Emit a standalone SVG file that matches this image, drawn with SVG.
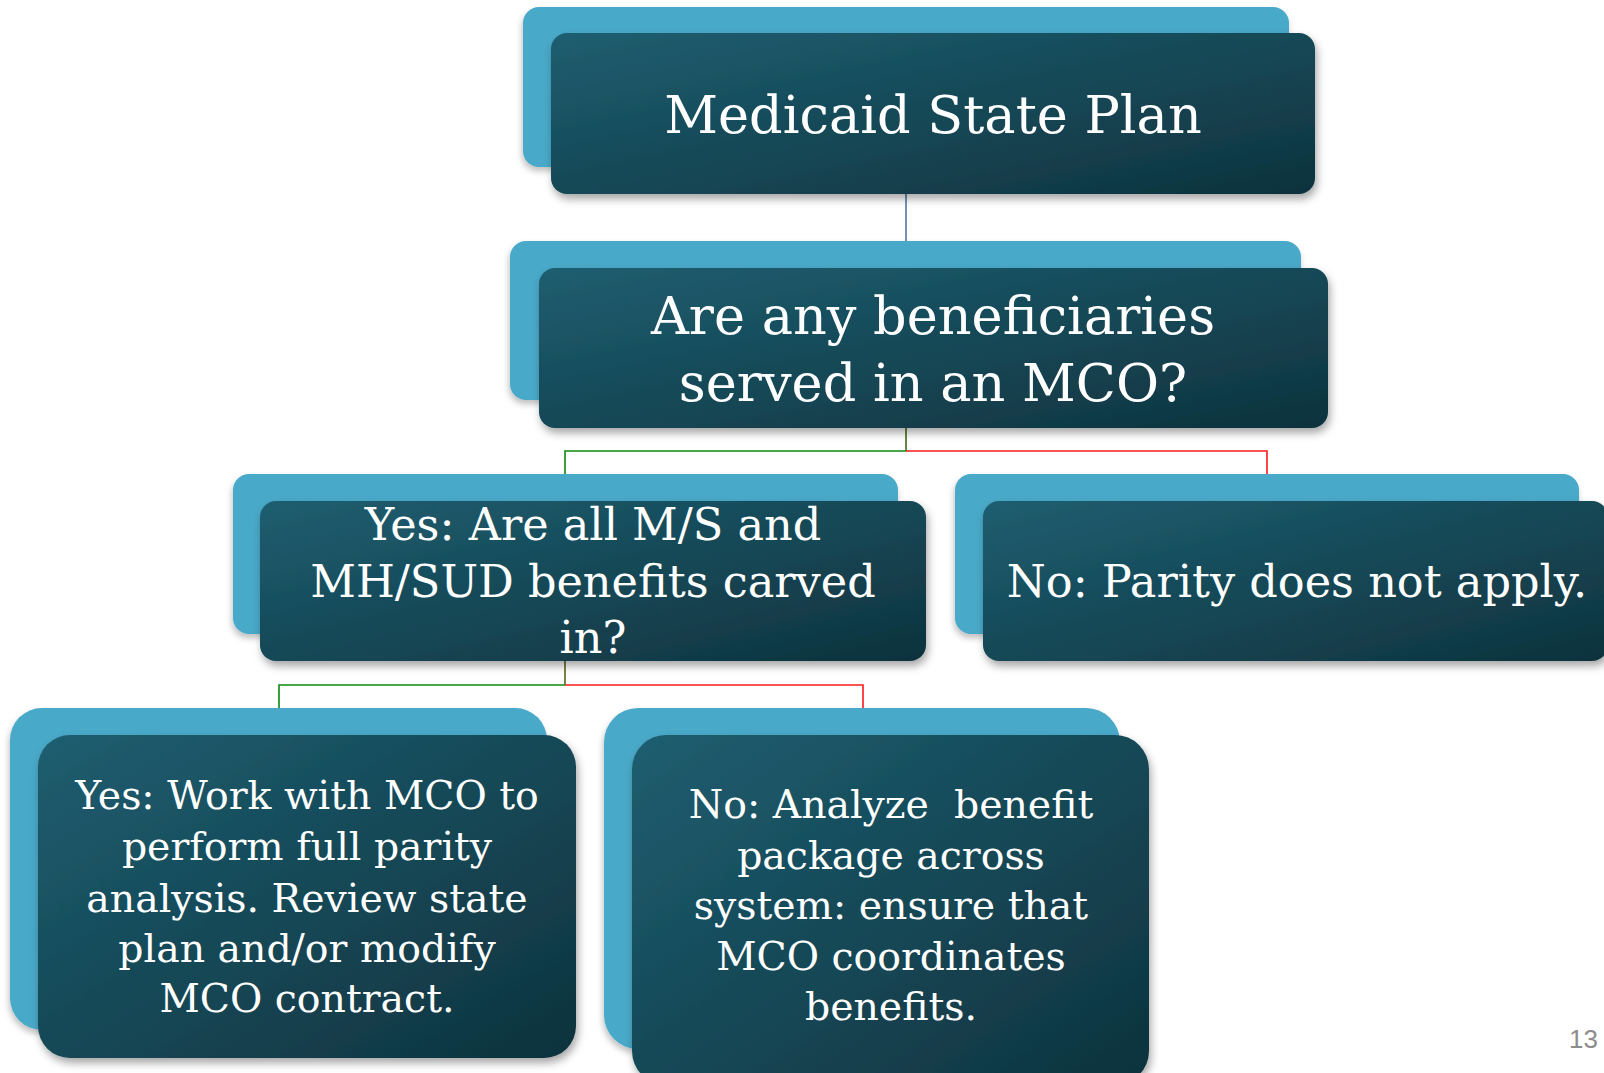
<svg xmlns="http://www.w3.org/2000/svg" width="1604" height="1073" viewBox="0 0 1604 1073">
<defs>
<linearGradient id="dark" x1="0" y1="0" x2="1" y2="1">
<stop offset="0" stop-color="#1e5e70"/>
<stop offset="1" stop-color="#0e323d"/>
</linearGradient>
<filter id="sh" x="-10%" y="-10%" width="120%" height="130%">
<feDropShadow dx="2" dy="5" stdDeviation="4" flood-color="#000" flood-opacity="0.35"/>
</filter>
<filter id="shb" x="-10%" y="-10%" width="120%" height="130%">
<feDropShadow dx="-1" dy="4" stdDeviation="3" flood-color="#000" flood-opacity="0.25"/>
</filter>
</defs>
<style>
.back{fill:#48a9c8;filter:url(#shb)}
.front{fill:url(#dark);filter:url(#sh)}
.t{fill:#ffffff;font-family:"DejaVu Serif","Liberation Serif",serif;text-anchor:middle}
.big{font-size:52.5px}
.mid{font-size:44.6px}
.sm{font-size:39.4px}
.c{fill:none;stroke-width:1.6}
</style>
<rect width="1604" height="1073" fill="#ffffff"/>
<g id="connectors">
<line class="c" x1="906" y1="194" x2="906" y2="241" stroke="#4f74a8"/>
<line class="c" x1="906" y1="428" x2="906" y2="451" stroke="#3d6b10"/>
<polyline class="c" points="565,474 565,451 906,451" stroke="#0a8a0a" stroke-width="2"/>
<polyline class="c" points="906,451 1267,451 1267,474" stroke="#ff1a1a" stroke-width="2"/>
<line class="c" x1="565" y1="661" x2="565" y2="685" stroke="#5c6410"/>
<polyline class="c" points="279,708 279,685 565,685" stroke="#0a8a0a" stroke-width="2"/>
<polyline class="c" points="565,685 863,685 863,708" stroke="#ff1a1a" stroke-width="2"/>
</g>
<g id="node1">
<rect class="back" x="523" y="7" width="766" height="160" rx="16"/>
<rect class="front" x="551" y="33" width="764" height="161" rx="16"/>
<text class="t big" x="933" y="133">Medicaid State Plan</text>
</g>
<g id="node2">
<rect class="back" x="510" y="241" width="791" height="159" rx="16"/>
<rect class="front" x="539" y="268" width="789" height="160" rx="16"/>
<text class="t big" x="933" y="334">Are any beneficiaries</text>
<text class="t big" x="933" y="401">served in an MCO?</text>
</g>
<g id="node3">
<rect class="back" x="233" y="474" width="665" height="160" rx="16"/>
<rect class="front" x="260" y="501" width="666" height="160" rx="16"/>
<text class="t mid" x="593" y="540">Yes: Are all M/S and</text>
<text class="t mid" x="593" y="597">MH/SUD benefits carved</text>
<text class="t mid" x="593" y="653">in?</text>
</g>
<g id="node4">
<rect class="back" x="955" y="474" width="624" height="160" rx="16"/>
<rect class="front" x="983" y="501" width="625" height="160" rx="16"/>
<text class="t mid" x="1297" y="597">No: Parity does not apply.</text>
</g>
<g id="node5">
<rect class="back" x="10" y="708" width="537" height="322" rx="32"/>
<rect class="front" x="38" y="735" width="538" height="323" rx="32"/>
<text class="t sm" x="307" y="809">Yes: Work with MCO to</text>
<text class="t sm" x="307" y="860">perform full parity</text>
<text class="t sm" x="307" y="912">analysis. Review state</text>
<text class="t sm" x="307" y="962">plan and/or modify</text>
<text class="t sm" x="307" y="1012">MCO contract.</text>
</g>
<g id="node6">
<rect class="back" x="604" y="708" width="516" height="341" rx="34"/>
<rect class="front" x="632" y="735" width="517" height="350" rx="34"/>
<text class="t sm" x="891" y="818" xml:space="preserve">No: Analyze  benefit</text>
<text class="t sm" x="891" y="869">package across</text>
<text class="t sm" x="891" y="919">system: ensure that</text>
<text class="t sm" x="891" y="970">MCO coordinates</text>
<text class="t sm" x="891" y="1020">benefits.</text>
</g>
<text x="1598" y="1048" font-family="Liberation Sans, sans-serif" font-size="26" fill="#8c8c8c" text-anchor="end">13</text>
</svg>
